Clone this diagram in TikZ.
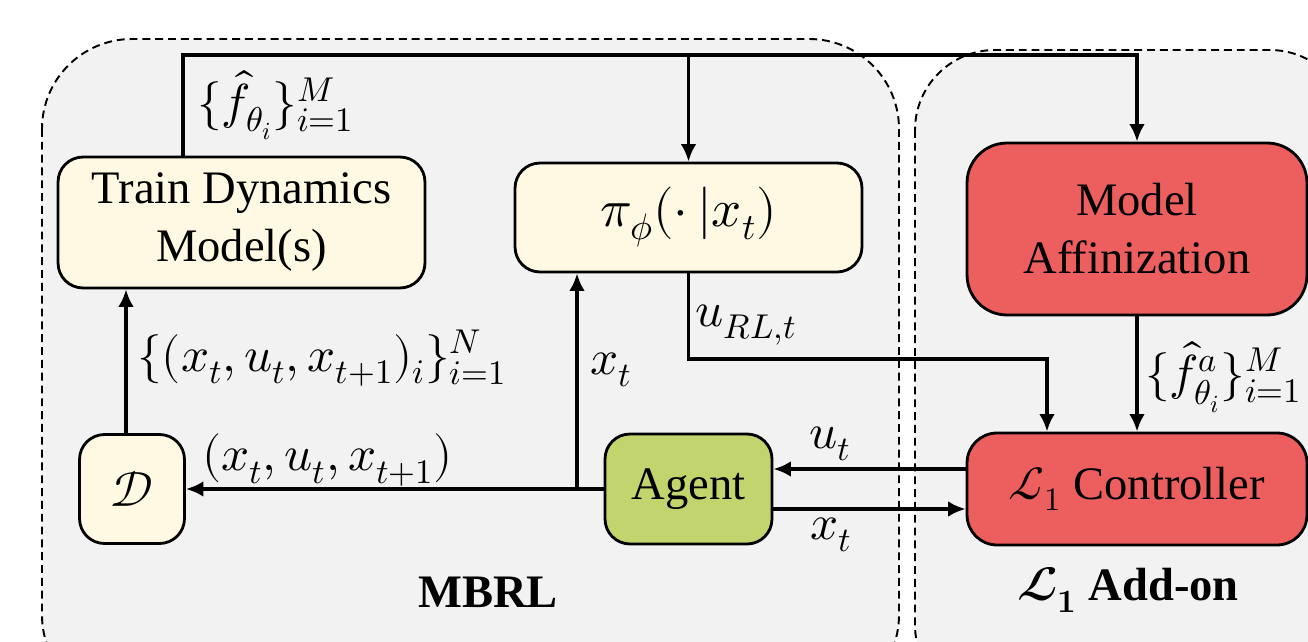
\documentclass[tikz,border=0pt]{standalone}
\usepackage{amsmath}
\usepackage{fontspec}
\usepackage{unicode-math}
\setmainfont{Liberation Serif}
\setmathfont{Latin Modern Math}
\usepackage{tikz}
\usetikzlibrary{arrows.meta}
\definecolor{panelgray}{RGB}{242,242,242}
\definecolor{cream}{RGB}{255,249,228}
\definecolor{redbox}{RGB}{237,94,94}
\definecolor{greenbox}{RGB}{194,212,110}

\begin{document}
\begin{tikzpicture}[x=0.02cm,y=-0.02cm,
        panel/.style={draw,dashed,dash pattern=on 4.5pt off 2.8pt,line width=1.1pt,fill=panelgray},
        blk/.style={draw,line width=1.6pt,rounded corners=0.5cm,align=center,inner sep=0pt,font=\fontsize{26.5}{33}\selectfont},
        lbl/.style={inner sep=0pt,font=\fontsize{28}{32}\selectfont},
        conn/.style={line width=2pt},
        arr/.style={conn,-{Latex[length=10pt,width=9pt]}}]
        \useasboundingbox (0,0) rectangle (1308,642);
        \clip (0,0) rectangle (1308,642);

        % Regions
        \draw[panel,rounded corners=1.8cm] (42,39) rectangle (899,705);
        \draw[panel,rounded corners=1.6cm] (915,50) rectangle (1350,705);

        % Blocks
        \node[blk,fill=cream,minimum width=7.34cm,minimum height=2.62cm] (train) at (241.5,222.5) {Train Dynamics\\Model(s)};
        \node[blk,fill=cream,minimum width=6.94cm,minimum height=2.18cm,font=\fontsize{30}{34}\selectfont] (policy) at (688.5,217.5) {$\pi_{\phi}(\cdot\,|x_t)$};
        \node[blk,fill=redbox,minimum width=6.8cm,minimum height=3.44cm,rounded corners=0.8cm] (affine) at (1137,229) {Model\\Affinization};
        \node[blk,fill=redbox,minimum width=6.8cm,minimum height=2.24cm,rounded corners=0.6cm] (ctrl) at (1137,489) {$\mathcal{L}_1$ Controller};
        \node[blk,fill=cream,minimum width=2.1cm,minimum height=2.18cm,font=\fontsize{28}{32}\selectfont] (data) at (132,489) {$\mathcal{D}$};
        \node[blk,fill=greenbox,minimum width=3.34cm,minimum height=2.2cm] (agent) at (688.5,489) {Agent};

        \coordinate (bus) at (183,55);
        \coordinate (rl) at (1047,359);
        \coordinate (xs) at (577,0);
        \coordinate (dt) at (126,0);

        % Model ensemble to policy and affinization
        \draw[arr] (train.north -| bus) |- (affine.north |- bus) -- (affine.north);
        \draw[arr] (policy.north |- bus) -- (policy.north);
        % Policy action to controller
        \draw[arr] (policy.south) |- (rl) -- (rl |- ctrl.north);
        \draw[arr] (affine.south) -- (ctrl.north);
        % Controller and agent
        \draw[arr] ([yshift=0.4cm]ctrl.west) -- ([yshift=0.4cm]ctrl.west -| agent.east);
        \draw[arr] ([yshift=-0.4cm]agent.east) -- ([yshift=-0.4cm]agent.east -| ctrl.west);
        % Agent to data and policy
        \draw[arr] (agent.west) -- (data.east);
        \draw[arr] (agent.west -| xs) -- (policy.south -| xs);
        \draw[arr] (data.north -| dt) -- (train.south -| dt);

        % Labels
        \node[lbl,anchor=west] (lfm) at (197,105) {$\{\hat{f}_{\theta_i}\}_{i=1}^{M}$};
        \node[lbl,anchor=west] (ltuple) at (137,358) {$\{(x_t,u_t,x_{t+1})_i\}_{i=1}^{N}$};
        \node[lbl,anchor=west] (lsample) at (202,460) {$(x_t,u_t,x_{t+1})$};
        \node[lbl,anchor=west] (lxt) at (590,370) {$x_t$};
        \node[lbl,anchor=west] (lurl) at (695,325) {$u_{RL,t}$};
        \node[lbl,anchor=west] (lfa) at (1145,377) {$\{\hat{f}^{a}_{\theta_i}\}_{i=1}^{M}$};
        \node[lbl] (lut) at (830,444) {$u_t$};
        \node[lbl] (lxa) at (831,535) {$x_t$};
        \node[font=\fontsize{26.5}{32}\selectfont\bfseries] (mbrl) at (488,592) {MBRL};
        \node[font=\fontsize{26.5}{32}\selectfont\bfseries] (addon) at (1128,590) {$\symbfcal{L}_{\symbf{1}}$ Add-on};
\end{tikzpicture}
\end{document}
